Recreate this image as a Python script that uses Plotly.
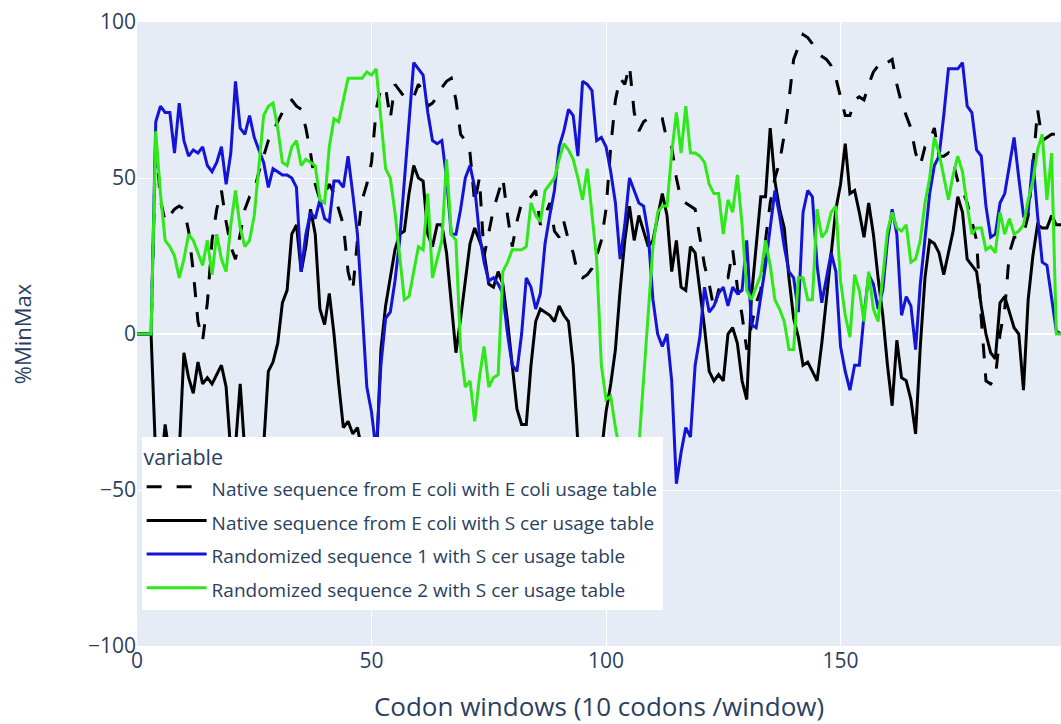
import plotly.graph_objects as go

# Codon window index (10 codons per window)
windows = list(range(198))

native_ecoli_ecoli = [
    0, 0, 0, 0, 62, 43, 36, 38, 40, 41,
    40, 33, 20, 4, -2, 10, 30, 40, 46, 36,
    28, 24, 32, 40, 44, 46, 52, 57, 62, 65,
    68, 71, 74, 75, 73, 72, 66, 58, 48, 43,
    45, 48, 45, 40, 35, 20, 14, 30, 43, 48,
    55, 72, 79, 79, 69, 80, 78, 76, 75, 76,
    80, 78, 73, 74, 76, 79, 81, 82, 75, 64,
    62, 58, 42, 50, 25, 32, 40, 45, 50, 38,
    28, 36, 42, 42, 44, 46, 35, 38, 42, 33,
    31, 36, 30, 26, 19, 18, 19, 21, 25, 30,
    40, 60, 75, 82, 80, 86, 71, 65, 68, 69,
    69, 69, 69, 62, 60, 50, 43, 42, 41, 40,
    31, 22, 16, 8, 14, 18, 18, 27, 15, 6,
    -5, 2, 10, 14, 30, 42, 50, 55, 64, 75,
    88, 92, 96, 95, 93, 90, 89, 88, 86, 82,
    76, 70, 70, 75, 76, 75, 80, 84, 86, 85,
    87, 88, 80, 74, 70, 66, 58, 54, 60, 62,
    66, 57, 57, 58, 55, 49, 46, 42, 36, 30,
    5, -15, -16, -14, 0, 8, 26, 31, 31, 32,
    38, 53, 72, 62, 63, 64, 64, 63,
]

native_ecoli_scer = [
    0, 0, 0, 0, -40, -45, -29, -40, -45, -38,
    -6, -14, -19, -9, -16, -14, -16, -13, -10, -17,
    -38, -36, -16, -38, -45, -50, -42, -36, -12, -9,
    -3, 10, 14, 32, 35, 20, 28, 40, 32, 8,
    3, 13, 0, -16, -30, -28, -32, -30, -38, -45,
    -50, -42, -5, 9, 18, 27, 32, 33, 45, 54,
    50, 49, 32, 28, 35, 35, 26, 11, -6, 5,
    18, 29, 34, 30, 26, 16, 15, 20, 16, 4,
    -10, -24, -29, -29, -10, 4, 8, 7, 6, 4,
    9, 6, 4, -10, -35, -45, -50, -50, -45, -38,
    -25, -16, -5, 14, 30, 41, 30, 38, 33, 28,
    30, 38, 45, 38, 20, 30, 15, 14, 28, 26,
    14, 2, -12, -15, -13, -15, 0, 2, -3, -15,
    -21, 12, 28, 44, 44, 66, 49, 40, 34, 18,
    5, -1, -10, -9, -12, -15, -3, 11, 24, 40,
    48, 61, 45, 46, 39, 31, 42, 32, 18, 6,
    -10, -23, -2, -14, -15, -21, -32, -4, 18, 30,
    29, 26, 19, 26, 33, 44, 39, 24, 22, 20,
    9, 0, -6, -8, 10, 12, 7, 2, 0, -18,
    11, 25, 35, 34, 34, 38, 35, 35,
]

randomized_1 = [
    0, 0, 0, 0, 68, 73, 71, 71, 58, 74,
    62, 57, 59, 58, 60, 54, 52, 55, 60, 48,
    58, 81, 66, 64, 70, 63, 59, 55, 47, 53,
    52, 51, 51, 50, 47, 20, 32, 39, 37, 43,
    37, 36, 49, 49, 47, 57, 45, 32, 8, -17,
    -25, -38, -10, 5, 7, 17, 30, 50, 70, 87,
    85, 83, 71, 62, 61, 62, 50, 32, 32, 40,
    50, 54, 47, 32, 23, 17, 18, 16, 13, 0,
    -10, -12, 0, 18, 15, 8, 13, 29, 38, 46,
    60, 65, 72, 70, 57, 81, 80, 78, 62, 63,
    60, 52, 42, 24, 35, 50, 46, 42, 41, 32,
    11, 0, -4, 0, -15, -48, -38, -30, -33, -10,
    -1, 15, 7, 9, 13, 15, 9, 15, 13, 14,
    30, 3, 2, 12, 22, 34, 46, 38, 28, 20,
    18, 7, 39, 46, 44, 22, 10, 18, 26, 20,
    -4, -12, -18, -10, -10, 6, 19, 16, 8, 14,
    30, 40, 32, 6, 12, 9, -5, 16, 30, 45,
    54, 57, 70, 85, 85, 85, 87, 73, 71, 59,
    57, 41, 31, 32, 42, 45, 54, 63, 50, 38,
    39, 56, 38, 23, 22, 11, 1, 0,
]

randomized_2 = [
    0, 0, 0, 0, 65, 45, 30, 28, 25, 18,
    24, 32, 30, 26, 22, 30, 19, 32, 24, 20,
    35, 46, 34, 28, 30, 38, 55, 70, 73, 74,
    66, 55, 54, 60, 62, 54, 56, 55, 54, 43,
    42, 60, 69, 68, 75, 82, 82, 82, 82, 84,
    83, 85, 70, 53, 50, 39, 25, 11, 12, 20,
    28, 27, 45, 18, 24, 30, 56, 32, 30, -5,
    -17, -15, -28, -14, -4, -17, -14, -13, 20, 23,
    27, 27, 27, 28, 42, 38, 36, 46, 48, 50,
    56, 61, 59, 56, 50, 43, 53, 39, 24, -10,
    -21, -20, -30, -38, -48, -55, -48, -36, -15, 8,
    28, 39, 41, 41, 58, 71, 58, 73, 58, 58,
    57, 55, 48, 45, 45, 32, 43, 39, 51, 35,
    14, 11, 15, 19, 30, 22, 11, 8, 4, -5,
    -5, 18, 18, 11, 11, 40, 31, 33, 39, 41,
    17, 6, -1, 19, 14, 4, 20, 8, 4, 19,
    33, 39, 34, 33, 35, 23, 24, 30, 42, 50,
    63, 58, 51, 43, 51, 57, 52, 41, 32, 34,
    34, 27, 28, 26, 39, 32, 37, 32, 33, 35,
    43, 49, 59, 64, 43, 58, 0, 0,
]

series_names = [
    "Native sequence from E coli with E coli usage table",
    "Native sequence from E coli with S cer usage table",
    "Randomized sequence 1 with S cer usage table",
    "Randomized sequence 2 with S cer usage table",
]
series_values = [native_ecoli_ecoli, native_ecoli_scer, randomized_1, randomized_2]
series_colors = ["#000000", "#000000", "#1414d6", "#2ee818"]
series_dash = ["longdash", "solid", "solid", "solid"]

# legend rows are spaced by the legend font size; entry text is drawn a bit smaller
legend_text_px = 19

fig = go.Figure()
for name, vals, color, dash in zip(series_names, series_values, series_colors, series_dash):
    fig.add_trace(go.Scatter(
        x=windows, y=vals, mode="lines",
        name=f"<span style='font-size:{legend_text_px}px'>{name}</span>",
        line=dict(color=color, width=3, dash=dash),
    ))

font_family = "Open Sans"
fig.update_layout(
    template="plotly",
    width=1061, height=724,
    margin=dict(l=137, r=0, t=22, b=78),
    font=dict(family=font_family, color="#2a3f5f"),
    plot_bgcolor="#E5ECF6",
    paper_bgcolor="white",
    legend=dict(
        title=dict(text="variable", font=dict(size=21.5)),
        font=dict(size=23.6),
        x=0.005, y=0.335, xanchor="left", yanchor="top",
        bgcolor="white",
        itemwidth=60,
        tracegroupgap=0,
    ),
)
fig.update_xaxes(
    range=[0, 197], tickvals=[0, 50, 100, 150],
    title=dict(text="Codon windows (10 codons /window)", font=dict(size=26), standoff=28),
    tickfont=dict(size=21),
    gridcolor="white", showline=False, zeroline=False,
)
fig.update_yaxes(
    range=[-100, 100], dtick=50,
    title=dict(text="%MinMax", font=dict(size=22), standoff=50),
    tickfont=dict(size=21),
    gridcolor="white", zerolinecolor="white", zerolinewidth=2,
)

fig.write_html("out.html")
